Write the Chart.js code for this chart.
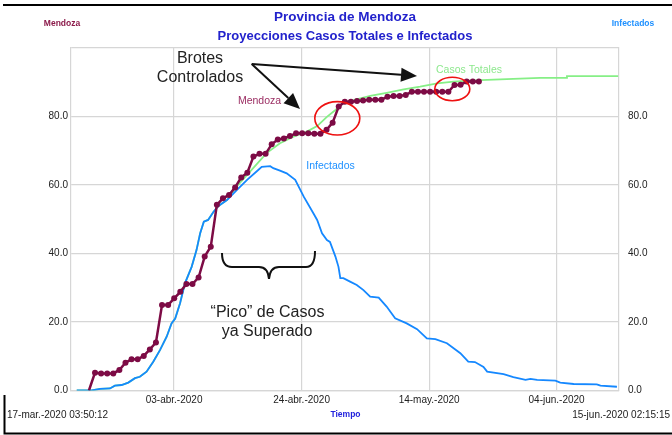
<!DOCTYPE html>
<html>
<head>
<meta charset="utf-8">
<script src="https://cdn.jsdelivr.net/npm/chart.js@4.4.1/dist/chart.umd.min.js"></script>
<style>
  html, body { margin: 0; padding: 0; background: #fff; }
  #wrap { width: 672px; height: 435px; }
</style>
</head>
<body>
<div id="wrap"><canvas id="c" width="672" height="435"></canvas></div>
<script>
// x axis is in days since 17-mar.-2020 03:50:12
const dayMax = 89.94;
const dateTicks = [16.92, 37.85, 58.78, 79.7];
const dateLabels = ['03-abr.-2020', '24-abr.-2020', '14-may.-2020', '04-jun.-2020'];
const yTicks = [0, 20, 40, 60, 80, 100];

// Mendoza (reported data, one point per day)
const mendozaStart = 2.94;
const mendozaValues = [0, 5.2, 5, 5, 5, 6.0, 8.1, 9.1, 9.1, 10.1, 12.0, 14.0, 25.0, 25.0, 26.9, 28.8,
  31.1, 31.1, 33.0, 39.1, 42.0, 54.2, 56.1, 57.1, 59.3, 62.2, 63.6, 68.3, 69.1, 69.1, 71.9, 73.3,
  73.6, 74.3, 75.1, 75.1, 75.1, 75.0, 75.0, 76.1, 78.2, 82.9, 84.3, 84.3, 84.5, 84.7, 84.9, 84.9,
  84.9, 85.8, 86.0, 86.0, 86.3, 87.2, 87.2, 87.2, 87.2, 87.2, 87.2, 87.2, 89.2, 89.3, 90.2, 90.2, 90.2];

// Infectados (model)
const infectadosDays = [0.94, 3.4, 4.76, 6.4, 7.2, 8.3, 9.4, 10.5, 11.3, 12.4, 13.5, 14.6, 15.7, 16.5,
  17.1, 17.9, 18.7, 19.8, 20.6, 21.2, 21.8, 22.5, 23.4, 24.2, 25.6, 27.2, 28.9, 30.5, 31.3, 32.7,
  33.2, 34.3, 35.4, 36.8, 38.2, 39.8, 40.4, 41.2, 42.0, 42.5, 43.4, 43.9, 44.2, 44.7, 45.8, 46.9,
  48.0, 49.1, 50.5, 51.8, 53.2, 55.1, 56.8, 58.4, 59.8, 61.7, 63.9, 65.2, 66.3, 67.7, 68.3, 71.0,
  72.6, 74.6, 75.4, 76.5, 79.5, 80.3, 82.5, 86.3, 86.9, 89.6];
const infectadosValues = [0, 0, 0.5, 0.6, 1.4, 1.6, 2.3, 3.6, 4.0, 5.5, 8.4, 11.8, 15.7, 19.6,
  21.0, 25.5, 31.3, 36.1, 41.0, 45.9, 49.3, 49.8, 52.2, 53.9, 55.6, 58.5, 61.5, 64.0, 65.3, 65.5,
  64.9, 64.2, 63.4, 61.5, 56.6, 51.7, 49.8, 45.9, 43.9, 43.4, 39.1, 36.1, 32.8, 32.8, 31.8, 30.8,
  29.3, 27.4, 27.1, 24.5, 21.1, 19.6, 17.9, 15.2, 15.0, 13.8, 10.9, 8.4, 8.3, 6.9, 5.5, 4.8,
  3.9, 3.1, 3.4, 3.1, 2.9, 2.3, 1.9, 1.8, 1.4, 1.1];

// Casos Totales (model)
const casosDays = [0.94, 3.4, 4.76, 6.4, 7.2, 8.3, 9.4, 10.5, 11.3, 12.4, 13.5, 14.6, 15.7, 16.5,
  17.1, 17.9, 18.7, 19.8, 20.6, 21.2, 21.8, 22.5, 23.4, 24.2, 25.6, 26.9, 29.9, 32.1, 34.3, 36.5,
  38.7, 40.4, 42.0, 43.4, 44.7, 46.4, 49.1, 51.8, 54.6, 57.3, 60.1, 62.8, 65.5, 68.3, 72.6, 77.0,
  81.3, 81.4, 89.8];
const casosValues = [0, 0, 0.5, 0.6, 1.4, 1.6, 2.3, 3.6, 4.0, 5.5, 8.4, 11.8, 15.7, 19.6,
  21.0, 25.5, 31.3, 36.1, 41.0, 45.9, 49.3, 49.8, 52.2, 53.9, 55.6, 59.0, 64.9, 69.3, 72.2, 74.1,
  75.6, 77.2, 79.9, 81.9, 83.9, 84.8, 86.0, 86.9, 87.9, 88.7, 89.7, 90.2, 90.5, 90.7, 91.0, 91.3,
  91.3, 91.8, 91.8];

const FONT = "'Liberation Sans', Arial, sans-serif";
const GRID = '#d6d6d6';

const mendozaData = mendozaValues.map((v, i) => ({ x: mendozaStart + i, y: v }));
const infectadosData = infectadosDays.map((d, i) => ({ x: d, y: infectadosValues[i] }));
const casosData = casosDays.map((d, i) => ({ x: d, y: casosValues[i] }));

// frame, titles and hand drawn notes
const notes = {
  id: 'notes',
  afterDraw(chart) {
    const ctx = chart.ctx;
    ctx.save();
    ctx.strokeStyle = '#000';
    ctx.lineWidth = 2;
    ctx.beginPath();
    ctx.moveTo(3, 5); ctx.lineTo(672, 5);
    ctx.moveTo(4.5, 395); ctx.lineTo(4.5, 433.5); ctx.lineTo(672, 433.5);
    ctx.stroke();

    ctx.textBaseline = 'middle';
    ctx.textAlign = 'center';
    ctx.fillStyle = '#2222cc';
    ctx.font = 'bold 13.5px ' + FONT;
    ctx.fillText('Provincia de Mendoza', 345, 17);
    ctx.font = 'bold 13px ' + FONT;
    ctx.fillText('Proyecciones Casos Totales e Infectados', 345, 36);

    ctx.font = 'bold 8.5px ' + FONT;
    ctx.fillStyle = '#8b1a4a';
    ctx.fillText('Mendoza', 62, 24);
    ctx.fillStyle = '#1e90ff';
    ctx.fillText('Infectados', 633, 24);
    ctx.fillStyle = '#2222dd';
    ctx.fillText('Tiempo', 345.5, 415);

    ctx.font = '10px ' + FONT;
    ctx.fillStyle = '#222';
    ctx.textAlign = 'left';
    ctx.fillText('17-mar.-2020 03:50:12', 7, 415.5);
    ctx.textAlign = 'right';
    ctx.fillText('15-jun.-2020 02:15:15', 670, 415.5);

    // series labels
    ctx.textAlign = 'center';
    ctx.font = '10.5px ' + FONT;
    ctx.fillStyle = '#9b2e63';
    ctx.fillText('Mendoza', 259.5, 101);
    ctx.fillStyle = '#8de88d';
    ctx.fillText('Casos Totales', 469, 70);
    ctx.fillStyle = '#1e90ff';
    ctx.fillText('Infectados', 330.5, 166);

    // Brotes Controlados
    ctx.font = '16px ' + FONT;
    ctx.fillStyle = '#222';
    ctx.fillText('Brotes', 200, 59);
    ctx.fillText('Controlados', 200, 78);
    ctx.fillText('\u201cPico\u201d de Casos', 267.5, 313);
    ctx.fillText('ya Superado', 267, 332);

    const arrow = (x0, y0, x1, y1) => {
      const a = Math.atan2(y1 - y0, x1 - x0);
      const len = 16, w = 7;
      const bx = x1 - len * Math.cos(a), by = y1 - len * Math.sin(a);
      ctx.beginPath();
      ctx.moveTo(x0, y0); ctx.lineTo(bx, by);
      ctx.stroke();
      ctx.beginPath();
      ctx.moveTo(x1, y1);
      ctx.lineTo(bx + w * Math.sin(a), by - w * Math.cos(a));
      ctx.lineTo(bx - w * Math.sin(a), by + w * Math.cos(a));
      ctx.closePath();
      ctx.fill();
    };
    ctx.strokeStyle = '#111';
    ctx.fillStyle = '#111';
    ctx.lineWidth = 2;
    arrow(251.7, 64, 300, 109);
    arrow(251.7, 64, 417, 76);

    // brace
    ctx.lineWidth = 2;
    ctx.beginPath();
    ctx.moveTo(222, 253);
    ctx.quadraticCurveTo(222, 267, 232, 267);
    ctx.lineTo(259, 267);
    ctx.quadraticCurveTo(268, 267, 269, 279);
    ctx.quadraticCurveTo(270, 267, 279, 267);
    ctx.lineTo(306, 267);
    ctx.quadraticCurveTo(315, 267, 315, 251);
    ctx.stroke();

    // red circles
    ctx.strokeStyle = '#ee1111';
    ctx.lineWidth = 1.6;
    ctx.beginPath();
    ctx.ellipse(337.3, 118.3, 22.5, 16.7, 0, 0, Math.PI * 2);
    ctx.stroke();
    ctx.beginPath();
    ctx.ellipse(452.3, 89, 17.5, 11.7, 0, 0, Math.PI * 2);
    ctx.stroke();
    ctx.restore();
  }
};

new Chart(document.getElementById('c'), {
  type: 'line',
  data: {
    datasets: [
      {
        label: 'Mendoza',
        data: mendozaData,
        borderColor: '#7d0b45',
        backgroundColor: '#7d0b45',
        borderWidth: 2.5,
        pointRadius: ctx => (ctx.raw && ctx.raw.y === 0 ? 0 : 3),
        pointBorderWidth: 0,
        tension: 0
      },
      {
        label: 'Infectados',
        data: infectadosData,
        borderColor: '#1588ff',
        borderWidth: 1.8,
        pointRadius: 0,
        tension: 0
      },
      {
        label: 'Casos Totales',
        data: casosData,
        borderColor: '#86ef86',
        borderWidth: 1.8,
        pointRadius: 0,
        tension: 0
      }
    ]
  },
  options: {
    responsive: false,
    animation: false,
    devicePixelRatio: 1,
    layout: { padding: { top: 48, left: 0, right: 0, bottom: 0 } },
    plugins: { legend: { display: false }, tooltip: { enabled: false } },
    scales: {
      x: {
        type: 'linear',
        min: 0,
        max: dayMax,
        afterFit: s => { s.height = 44.5; },
        afterBuildTicks: s => { s.ticks = dateTicks.map(v => ({ value: v })); },
        ticks: {
          autoSkip: false,
          maxRotation: 0,
          padding: 4,
          color: '#222',
          font: { family: FONT, size: 10 },
          callback: (v, i) => dateLabels[i]
        },
        grid: { color: GRID, lineWidth: 1.2, drawTicks: false },
        border: { color: GRID, width: 1.2 }
      },
      y: {
        position: 'left',
        min: 0,
        max: 100,
        afterFit: s => { s.width = 71; },
        afterBuildTicks: s => { s.ticks = yTicks.map(v => ({ value: v })); },
        ticks: {
          padding: 3,
          color: '#222',
          font: { family: FONT, size: 10 },
          callback: v => (v === 100 ? '' : v.toFixed(1))
        },
        grid: { color: GRID, lineWidth: 1.2, drawTicks: false },
        border: { color: GRID, width: 1.2 }
      },
      y2: {
        position: 'right',
        min: 0,
        max: 100,
        afterFit: s => { s.width = 53; },
        afterBuildTicks: s => { s.ticks = yTicks.map(v => ({ value: v })); },
        ticks: {
          padding: 9,
          color: '#222',
          font: { family: FONT, size: 10 },
          callback: v => (v === 100 ? '' : v.toFixed(1))
        },
        grid: { display: false, drawTicks: false },
        border: { color: GRID, width: 1.2 }
      }
    }
  },
  plugins: [notes]
});
</script>
</body>
</html>
